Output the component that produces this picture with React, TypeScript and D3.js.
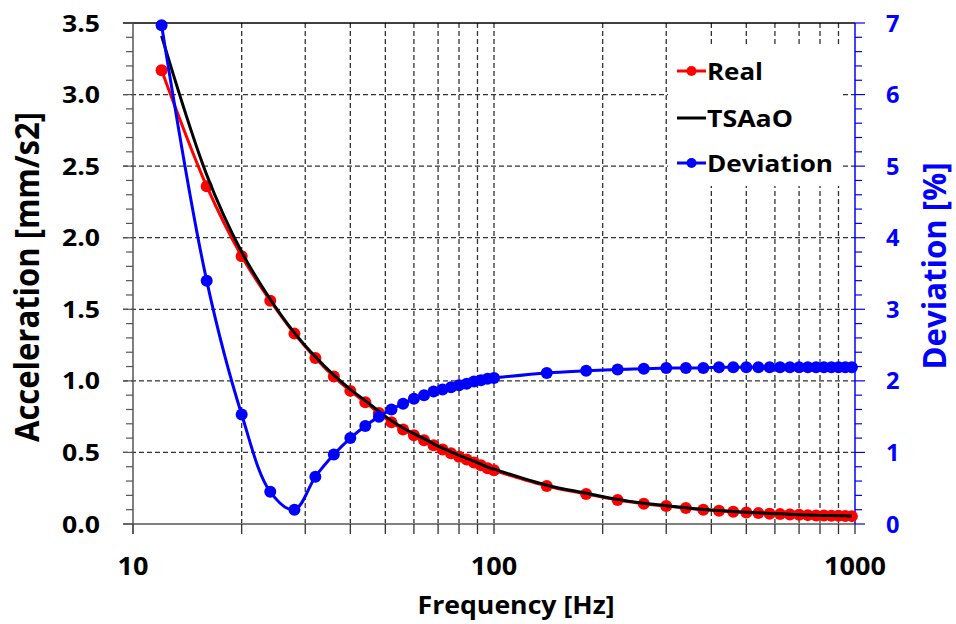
import React from "react";
import * as d3 from "d3";

const freqs = [12, 16, 20, 24, 28, 32, 36, 40, 44, 48, 52, 56, 60, 64, 68, 72, 76, 80, 84, 88, 92, 96, 100,
  140, 180, 220, 260, 300, 340, 380, 420, 460, 500, 540, 580, 620, 660, 700, 740, 780, 820, 860, 900, 940, 980];
const realAcc = [3.17, 2.36, 1.87, 1.56, 1.33, 1.16, 1.03, 0.93, 0.85, 0.775, 0.71, 0.66, 0.62, 0.585, 0.55, 0.52, 0.495, 0.47, 0.45, 0.43, 0.41, 0.39, 0.375,
  0.265, 0.21, 0.168, 0.142, 0.125, 0.112, 0.1, 0.092, 0.085, 0.08, 0.076, 0.072, 0.069, 0.066, 0.064, 0.062, 0.06, 0.059, 0.058, 0.057, 0.056, 0.055];
const tsaaoAcc = [3.41, 2.44, 1.9, 1.57, 1.335, 1.168, 1.04, 0.941, 0.862, 0.787, 0.721, 0.671, 0.631, 0.596, 0.56, 0.53, 0.504, 0.479, 0.459, 0.439, 0.418, 0.398, 0.383,
  0.271, 0.215, 0.172, 0.145, 0.128, 0.114, 0.102, 0.094, 0.087, 0.082, 0.078, 0.074, 0.071, 0.068, 0.065, 0.063, 0.061, 0.06, 0.059, 0.058, 0.057, 0.056];
const deviation = [6.97, 3.4, 1.53, 0.45, 0.2, 0.66, 0.97, 1.2, 1.37, 1.5, 1.6, 1.68, 1.75, 1.8, 1.85, 1.88, 1.91, 1.94, 1.96, 1.99, 2.01, 2.03, 2.04,
  2.11, 2.14, 2.16, 2.17, 2.18, 2.18, 2.18, 2.19, 2.19, 2.19, 2.19, 2.19, 2.19, 2.19, 2.19, 2.19, 2.19, 2.19, 2.19, 2.19, 2.19, 2.19];

const xTickLabels = ["10", "100", "1000"];
const leftTicks = [0, 0.5, 1, 1.5, 2, 2.5, 3, 3.5];
const rightTicks = [0, 1, 2, 3, 4, 5, 6, 7];
const gridFreqs = [20, 30, 40, 50, 60, 70, 80, 90, 100, 200, 300, 400, 500, 600, 700, 800, 900];
const tickFreqs = [10, 20, 30, 40, 50, 60, 70, 80, 90, 100, 200, 300, 400, 500, 600, 700, 800, 900, 1000];
const legendNames = ["Real", "TSAaO", "Deviation"];

const FONT = "'Open Sans', sans-serif";
const RED = "#ff0000";
const BLUE = "#0000ff";
const GRID = "#333333";

const x = d3.scaleLog().domain([10, 1000]).range([133, 855]);
const yL = d3.scaleLinear().domain([0, 3.5]).range([524, 23]);
const yR = d3.scaleLinear().domain([0, 7]).range([524, 23]);

const numW = (s: string) => s.split("").reduce((a, c) => a + (c === "." ? 7 : 15.5), 0);

export default function App() {
  const curve = d3.curveCatmullRom.alpha(0.5);
  const realLine = d3.line<number>().x((_, i) => x(freqs[i])).y((d) => yL(d)).curve(curve);
  const devLine = d3.line<number>().x((_, i) => x(freqs[i])).y((d) => yR(d)).curve(curve);

  const minorLeft = d3.range(0, 36).map((i) => i / 10).filter((v) => Math.round(v * 10) % 5 !== 0);
  const minorRight = d3.range(0, 36).map((i) => i / 5).filter((v) => Math.round(v * 5) % 5 !== 0);

  const legendColors = [RED, "#000000", BLUE];
  const legendY = [71, 118, 163];
  const legendLen = [56, 86, 126];

  return (
    <svg width={956} height={624} style={{ position: "absolute", left: 0, top: 0, background: "#fff" }} fontFamily={FONT}>
      <rect x={0} y={0} width={956} height={624} fill="#fff" />
      {leftTicks.filter((v) => v > 0 && v < 3.5).map((v) => (
        <line key={"hg" + v} x1={123} x2={855} y1={yL(v)} y2={yL(v)} stroke={GRID} strokeWidth={1.3} strokeDasharray="5,3" />
      ))}
      {gridFreqs.map((f) => (
        <line key={"vg" + f} x1={x(f)} x2={x(f)} y1={23} y2={524} stroke={GRID} strokeWidth={1.3} strokeDasharray="5,3" />
      ))}
      <rect x={668} y={47} width={174} height={139} fill="#fff" />
      <line x1={123} x2={855} y1={23} y2={23} stroke="#000" strokeWidth={1.5} />
      <line x1={123} x2={855} y1={524} y2={524} stroke="#808080" strokeWidth={2} />
      {tickFreqs.map((f) => (
        <line key={"xt" + f} x1={x(f)} x2={x(f)} y1={524} y2={534} stroke="#333" strokeWidth={1.3} />
      ))}
      <line x1={133} x2={133} y1={23} y2={534} stroke="#555" strokeWidth={1.5} />
      {minorLeft.map((v) => (
        <line key={"ml" + v} x1={126} x2={133} y1={yL(v)} y2={yL(v)} stroke="#555" strokeWidth={1.2} />
      ))}
      {leftTicks.map((v) => (
        <line key={"tl" + v} x1={123} x2={133} y1={yL(v)} y2={yL(v)} stroke="#555" strokeWidth={1.2} />
      ))}
      <line x1={855} x2={855} y1={23} y2={524} stroke={BLUE} strokeWidth={1.5} />
      {minorRight.map((v) => (
        <line key={"mr" + v} x1={855} x2={862} y1={yR(v)} y2={yR(v)} stroke={BLUE} strokeWidth={1.2} />
      ))}
      {rightTicks.map((v) => (
        <line key={"tr" + v} x1={855} x2={865} y1={yR(v)} y2={yR(v)} stroke={BLUE} strokeWidth={1.2} />
      ))}

      {leftTicks.map((v) => {
        const s = v.toFixed(1);
        return (
          <text key={"ll" + v} x={100} y={yL(v) + 8.5} textAnchor="end" fontSize={24} fontWeight={700} fill="#000"
            textLength={numW(s)} lengthAdjust="spacingAndGlyphs">{s}</text>
        );
      })}
      {rightTicks.map((v) => {
        const s = String(v);
        return (
          <text key={"rl" + v} x={886} y={yR(v) + 8.5} textAnchor="start" fontSize={24} fontWeight={700} fill={BLUE}
            textLength={numW(s) - 2} lengthAdjust="spacingAndGlyphs">{s}</text>
        );
      })}
      {xTickLabels.map((s) => (
        <text key={"xl" + s} x={x(+s)} y={575} textAnchor="middle" fontSize={25} fontWeight={700} fill="#000"
          textLength={numW(s)} lengthAdjust="spacingAndGlyphs">{s}</text>
      ))}

      <text x={516} y={614} textAnchor="middle" fontSize={25} fontWeight={700} fill="#000" textLength={197} lengthAdjust="spacingAndGlyphs">Frequency [Hz]</text>
      <text transform="translate(39,277) rotate(-90)" textAnchor="middle" fontSize={34} fontWeight={700} fill="#000" textLength={330} lengthAdjust="spacingAndGlyphs">Acceleration [mm/s2]</text>
      <text transform="translate(946,266) rotate(-90)" textAnchor="middle" fontSize={33} fontWeight={700} fill={BLUE} textLength={207} lengthAdjust="spacingAndGlyphs">Deviation [%]</text>

      <path d={realLine(realAcc) || ""} fill="none" stroke={RED} strokeWidth={3} />
      {realAcc.map((v, i) => (
        <circle key={"rp" + i} cx={x(freqs[i])} cy={yL(v)} r={6} fill={RED} />
      ))}
      <path d={realLine(tsaaoAcc) || ""} fill="none" stroke="#000" strokeWidth={3} />
      <path d={devLine(deviation) || ""} fill="none" stroke={BLUE} strokeWidth={3} />
      {deviation.map((v, i) => (
        <circle key={"dp" + i} cx={x(freqs[i])} cy={yR(v)} r={6} fill={BLUE} />
      ))}

      {legendNames.map((n, i) => (
        <g key={"lg" + n}>
          <line x1={677} x2={706} y1={legendY[i]} y2={legendY[i]} stroke={legendColors[i]} strokeWidth={3} />
          {i !== 1 && <circle cx={691.5} cy={legendY[i]} r={5} fill={legendColors[i]} />}
          <text x={707} y={legendY[i] + 9} fontSize={24} fontWeight={700} fill="#000" textLength={legendLen[i]} lengthAdjust="spacingAndGlyphs">{n}</text>
        </g>
      ))}
    </svg>
  );
}
